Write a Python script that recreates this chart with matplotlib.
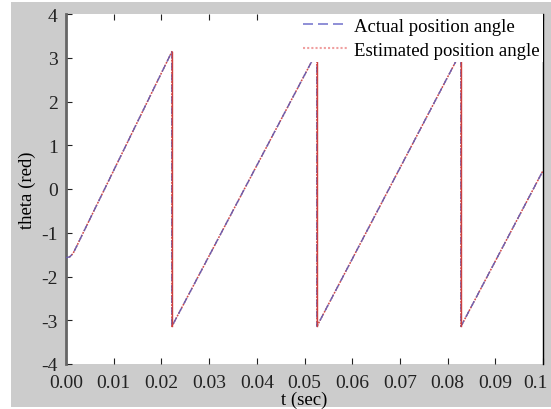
import matplotlib
matplotlib.use("Agg")
import matplotlib.pyplot as plt
from matplotlib.patches import Rectangle
from matplotlib.lines import Line2D
from matplotlib.transforms import ScaledTranslation

# Data (breakpoints of the wrapped angle)
t_actual = [0.0, 0.0008, 0.0015, 0.0025, 0.0036, 0.0222, 0.0222, 0.0526, 0.0526, 0.0828, 0.0828, 0.1]
theta_actual = [-1.57, -1.55, -1.47, -1.25, -1.0, 3.14, -3.14, 3.14, -3.14, 3.14, -3.14, 0.42]
t_est = [0.0, 0.0008, 0.0015, 0.0025, 0.0036, 0.0222, 0.0222, 0.0526, 0.0526, 0.0828, 0.0828, 0.1]
theta_est = [-1.57, -1.55, -1.47, -1.25, -1.0, 3.14, -3.14, 3.14, -3.14, 3.14, -3.14, 0.42]

xticks = [0.0, 0.01, 0.02, 0.03, 0.04, 0.05, 0.06, 0.07, 0.08, 0.09, 0.1]
xticklabels = ["0.00", "0.01", "0.02", "0.03", "0.04", "0.05", "0.06", "0.07", "0.08", "0.09", "0.1"]
yticks = [-4, -3, -2, -1, 0, 1, 2, 3, 4]

plt.rcParams['font.family'] = ['Liberation Serif', 'DejaVu Serif']
plt.rcParams['axes.unicode_minus'] = False

fig = plt.figure(figsize=(5.51, 4.10), dpi=100)
fig.patch.set_facecolor('white')
fig.patches.append(Rectangle((11/551, 2/410), 1 - 11/551, 405/410, transform=fig.transFigure,
                             facecolor='#cccccc', edgecolor='none', zorder=-10))

ax = fig.add_axes([66/551, 45/410, 477/551, 350/410])
ax.set_facecolor('white')

ax.plot(t_est, theta_est, color='#d04848', lw=1.1, linestyle=(0, (1.2, 0.8)),
        label='Estimated position angle', zorder=2)
ax.plot(t_actual, theta_actual, color='#6a5fb0', lw=1.0, linestyle=(0, (5, 3)),
        label='Actual position angle', zorder=3)
# vertical wrap lines appear solid red
ax.plot(t_est[5:7], theta_est[5:7], color='#cc4040', lw=1.0, zorder=4)
ax.plot(t_est[7:9], theta_est[7:9], color='#cc4040', lw=1.0, zorder=4)
ax.plot(t_est[9:11], theta_est[9:11], color='#cc4040', lw=1.0, zorder=4)

ax.set_xlim(0, 0.1)
ax.set_ylim(-4, 4)
ax.set_xticks(xticks)
ax.set_xticklabels(xticklabels)
ax.set_yticks(yticks)
ax.tick_params(direction='in', top=True, right=False, length=4, width=0.8,
               labelsize=14, colors='#222222')
ax.tick_params(axis='x', pad=7)
ax.tick_params(axis='y', pad=6)

# last x label sits slightly left in the reference
lbl = ax.get_xticklabels()[-1]
lbl.set_transform(lbl.get_transform() + ScaledTranslation(-8/100, 0, fig.dpi_scale_trans))

ax.spines['bottom'].set_visible(False)
ax.spines['top'].set_visible(False)
ax.spines['left'].set_color('#666666')
ax.spines['left'].set_linewidth(2)
ax.spines['right'].set_color('black')
ax.spines['right'].set_linewidth(1)

ax.set_xlabel('t (sec)', fontsize=13.5, labelpad=0)
ax.set_ylabel('theta (red)', fontsize=13.5, labelpad=4)

h_act = Line2D([], [], color='#7b7bd0', lw=1.2, linestyle=(0, (6, 3)))
h_est = Line2D([], [], color='#f0a0a0', lw=1.5, linestyle=(0, (1, 1)))
leg = ax.legend([h_act, h_est], ['Actual position angle', 'Estimated position angle'],
                loc='upper right', bbox_to_anchor=(1.0, 1.0), fontsize=13.5,
                frameon=True, fancybox=False, borderaxespad=0, handlelength=2.4,
                handletextpad=0.3, borderpad=0.2, labelspacing=0.35)
leg.get_frame().set_edgecolor('none')
leg.get_frame().set_facecolor('white')
leg.get_frame().set_alpha(1)

fig.savefig('out.png', dpi=100, facecolor=fig.get_facecolor())
